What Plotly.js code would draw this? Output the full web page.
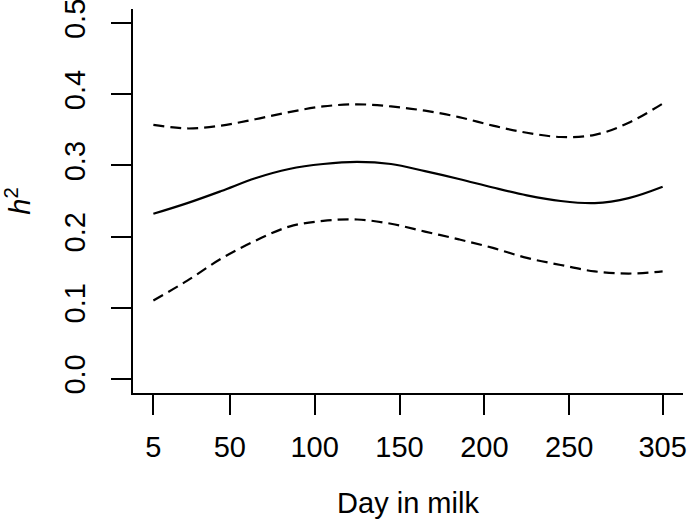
<!DOCTYPE html>
<html>
<head>
<meta charset="utf-8">
<script src="https://cdn.plot.ly/plotly-3.0.1.min.js"></script>
<style>
html,body{margin:0;padding:0;background:#fff;}
#chart{width:690px;height:523px;}
</style>
</head>
<body>
<div id="chart"></div>
<script>
const days = [5, 25, 45, 65, 85, 105, 125, 145, 165, 185, 205, 225, 245, 265, 285, 305];
const h2Estimate = [0.232, 0.247, 0.264, 0.282, 0.295, 0.302, 0.305, 0.302, 0.292, 0.281, 0.269, 0.258, 0.250, 0.247, 0.254, 0.270];
const h2Upper    = [0.357, 0.352, 0.356, 0.365, 0.375, 0.383, 0.386, 0.383, 0.377, 0.368, 0.356, 0.346, 0.340, 0.343, 0.360, 0.387];
const h2Lower    = [0.110, 0.138, 0.169, 0.194, 0.214, 0.222, 0.224, 0.218, 0.207, 0.196, 0.184, 0.170, 0.160, 0.151, 0.148, 0.151];
const xTickVals = [5, 50, 100, 150, 200, 250, 305];
const xTickText = ['5', '50', '100', '150', '200', '250', '305'];
const yTickVals = [0, 0.1, 0.2, 0.3, 0.4, 0.5];
const yTickText = ['0.0', '0.1', '0.2', '0.3', '0.4', '0.5'];

const font = 'Liberation Sans, Arial, Helvetica, sans-serif';
const fs = 29;

const traces = [
  {x: days, y: h2Upper, mode: 'lines', line: {color: '#000', width: 2.2, dash: '11px,6px', shape: 'spline', smoothing: 1}, hoverinfo: 'skip'},
  {x: days, y: h2Estimate, mode: 'lines', line: {color: '#000', width: 2.2, shape: 'spline', smoothing: 1}, hoverinfo: 'skip'},
  {x: days, y: h2Lower, mode: 'lines', line: {color: '#000', width: 2.2, dash: '11px,6px', shape: 'spline', smoothing: 1}, hoverinfo: 'skip'}
];

const layout = {
  width: 690, height: 523,
  margin: {l: 133, r: 7, t: 9, b: 130},
  paper_bgcolor: '#fff', plot_bgcolor: '#fff',
  showlegend: false,
  font: {family: font, size: fs, color: '#000'},
  xaxis: {
    range: [-7, 317],
    tickmode: 'array', tickvals: xTickVals, ticktext: xTickText,
    ticks: 'outside', ticklen: 20, tickwidth: 2, tickcolor: '#000',
    showline: true, linecolor: '#000', linewidth: 2,
    showgrid: false, zeroline: false,
    ticklabelstandoff: 7,
    ticklabeloverflow: 'allow',
    tickfont: {family: font, size: fs, color: '#000'},
    title: {text: 'Day in milk', font: {family: font, size: fs, color: '#000'}, standoff: 31}
  },
  yaxis: {
    range: [-0.02, 0.52],
    tickmode: 'array', tickvals: yTickVals, ticktext: yTickText,
    tickangle: -90,
    ticks: 'outside', ticklen: 20, tickwidth: 2, tickcolor: '#000',
    showline: true, linecolor: '#000', linewidth: 2,
    showgrid: false, zeroline: false,
    ticklabelstandoff: 14,
    ticklabeloverflow: 'allow',
    tickfont: {family: font, size: fs, color: '#000'},
    title: {text: '<i>h</i><sup>2</sup>', font: {family: font, size: fs, color: '#000'}, standoff: 22}
  }
};

Plotly.newPlot('chart', traces, layout, {displayModeBar: false, staticPlot: true});
</script>
</body>
</html>
